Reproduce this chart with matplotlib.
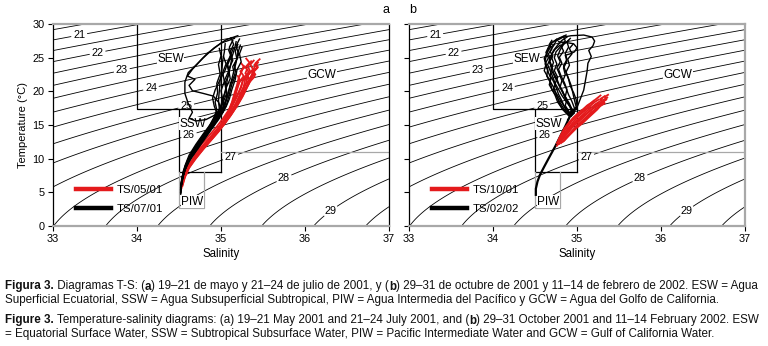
import numpy as np
import matplotlib
matplotlib.use("Agg")
import matplotlib.pyplot as plt
from matplotlib import font_manager

plt.rcParams['font.family'] = ['Liberation Sans', 'DejaVu Sans']

# ---------------- data ----------------
sal_ticks = [33, 34, 35, 36, 37]
temp_ticks = [0, 5, 10, 15, 20, 25, 30]
sigma_half_levels = [19.5, 20.5, 21.5, 22.5, 23.5, 24.5, 25.5, 26.5, 27.5, 28.5, 29.5]
sigma_label_levels = [20, 21, 22, 23, 24, 25, 26, 27, 28, 29, 30]
sigma_label_pos = [(33.31, 28.5), (33.53, 25.8), (33.82, 23.1), (34.17, 20.3),
                   (34.58, 18.1), (34.63, 13.0), (35.12, 10.0), (35.75, 7.06),
                   (36.31, 2.1)]

# water-mass boundaries (salinity, temperature)
sew_outline = [(34.0, 30.0), (34.0, 17.4), (35.0, 17.4)]
sew_right = [(35.0, 30.0), (35.0, 8.0)]
ssw_outline = [(34.5, 17.4), (34.5, 8.0), (35.0, 8.0)]
piw_outline = [(34.5, 8.0), (34.5, 2.7), (34.8, 2.7), (34.8, 8.0)]
gcw_outline = [(35.0, 11.0), (37.0, 11.0)]
mass_names = ['SEW', 'SSW', 'GCW', 'PIW']
mass_pos = [(34.40, 24.8), (34.66, 15.2), (36.20, 22.4), (34.66, 3.6)]

# panel a, May 2001 (red)
may01 = [
    [(35.46,24.8),(35.41,24.2),(35.44,23.6),(35.38,22.8),(35.36,21.8),(35.31,20.6),(35.26,19.3),(35.20,18.0),(35.13,16.7),(35.05,15.4),(34.96,14.1),(34.87,12.8),(34.78,11.5),(34.69,10.1),(34.62,8.7),(34.57,7.3),(34.54,6.0)],
    [(35.39,24.6),(35.35,24.0),(35.38,23.3),(35.32,22.4),(35.30,21.3),(35.25,20.1),(35.21,18.8),(35.15,17.5),(35.09,16.2),(35.01,14.9),(34.92,13.6),(34.83,12.3),(34.74,11.0),(34.66,9.6),(34.59,8.2),(34.55,6.8),(34.53,5.6)],
    [(35.30,24.9),(35.34,24.3),(35.29,23.6),(35.33,22.9),(35.27,22.0),(35.24,20.8),(35.20,19.5),(35.15,18.2),(35.10,16.9),(35.03,15.6),(34.95,14.3),(34.86,13.0),(34.77,11.7),(34.68,10.3),(34.61,8.9),(34.56,7.5),(34.53,6.2)],
    [(35.42,23.4),(35.37,22.9),(35.40,22.2),(35.34,21.4),(35.30,20.4),(35.25,19.2),(35.19,17.9),(35.12,16.6),(35.05,15.3),(34.97,14.0),(34.88,12.7),(34.79,11.4),(34.70,10.0),(34.62,8.6),(34.57,7.2),(34.54,5.9)],
    [(35.24,24.2),(35.28,23.6),(35.23,23.0),(35.27,22.3),(35.22,21.4),(35.19,20.2),(35.16,18.9),(35.12,17.6),(35.07,16.3),(35.00,15.0),(34.92,13.7),(34.83,12.4),(34.74,11.1),(34.66,9.7),(34.59,8.3),(34.55,6.9)],
    [(35.35,22.9),(35.31,22.4),(35.34,21.8),(35.29,21.0),(35.26,20.0),(35.22,18.9),(35.17,17.7),(35.11,16.5),(35.04,15.2),(34.96,13.9),(34.87,12.6),(34.78,11.3),(34.69,9.9),(34.61,8.5),(34.56,7.1)],
    [(35.44,24.3),(35.40,23.7),(35.37,22.6),(35.33,21.5),(35.29,20.3),(35.24,19.0),(35.18,17.7),(35.11,16.3),(35.03,15.0),(34.94,13.7),(34.85,12.4),(34.76,11.1),(34.67,9.7)],
    [(35.27,23.8),(35.25,23.1),(35.21,22.0),(35.19,20.9),(35.16,19.7),(35.13,18.4),(35.09,17.1),(35.04,15.8),(34.97,14.5),(34.89,13.2),(34.80,11.9),(34.71,10.5),(34.63,9.1),(34.57,7.7),(34.54,6.3)],
    [(35.36,24.5),(35.32,23.7),(35.35,22.9),(35.29,21.9),(35.27,20.7),(35.22,19.4),(35.17,18.1),(35.11,16.8),(35.04,15.5),(34.96,14.2),(34.87,12.9),(34.78,11.6),(34.69,10.2),(34.61,8.8),(34.56,7.4),(34.53,6.1)],
    [(35.20,22.3),(35.23,21.6),(35.19,20.8),(35.17,19.8),(35.14,18.6),(35.10,17.3),(35.05,16.0),(34.98,14.7),(34.90,13.4),(34.81,12.1),(34.72,10.8)],
    [(35.40,24.0),(35.43,23.5),(35.38,23.1),(35.41,22.5),(35.35,22.1),(35.33,21.2),(35.28,20.2),(35.23,19.0),(35.17,17.8),(35.10,16.6),(35.02,15.3),(34.93,14.0),(34.84,12.7),(34.75,11.4)],
    [(35.31,23.3),(35.29,22.7),(35.32,22.3),(35.26,21.7),(35.24,20.6),(35.20,19.6),(35.15,18.4),(35.09,17.2),(35.02,15.9),(34.94,14.6),(34.85,13.3),(34.76,12.0),(34.68,10.6)],
]

# panel a, July 2001 (black)
jul01 = [
    [(35.20,28.3),(35.06,27.7),(34.92,26.5),(34.78,24.9),(34.66,23.3),(34.60,22.3),(34.69,21.8),(34.62,20.9),(34.66,20.1),(34.79,19.7),(34.91,19.3),(34.97,18.4),(35.00,17.4),(34.95,16.2),(34.88,14.8),(34.80,13.2),(34.71,11.5),(34.63,10.0),(34.57,8.4),(34.54,6.9),(34.52,5.6),(34.52,4.7)],
    [(35.16,27.9),(35.00,27.2),(34.84,25.7),(34.70,23.9),(34.61,22.8),(34.57,21.4),(34.57,19.7),(34.61,18.2),(34.66,16.9),(34.62,16.0),(34.70,15.6),(34.82,15.8),(34.93,16.5),(34.97,16.9),(34.92,15.5),(34.85,14.1),(34.77,12.7),(34.68,11.1),(34.61,9.6),(34.56,8.0),(34.53,6.5),(34.52,5.0)],
    [(35.18,27.4),(35.16,26.3),(35.13,25.1),(35.11,23.6),(35.08,22.1),(35.06,20.6),(35.03,19.1),(35.01,17.7),(34.96,16.4),(34.89,15.0),(34.80,13.4),(34.71,11.7),(34.63,10.1),(34.57,8.5),(34.54,7.0),(34.52,5.6),(34.52,4.8)],
    [(35.23,26.9),(35.20,25.7),(35.18,24.3),(35.15,22.9),(35.12,21.4),(35.09,19.9),(35.05,18.4),(35.01,17.1),(34.95,15.9),(34.88,14.5),(34.79,13.0),(34.70,11.4),(34.62,9.9),(34.56,8.3),(34.53,6.8),(34.52,5.3)],
    [(35.05,27.1),(35.04,25.9),(35.02,24.6),(35.01,23.1),(34.99,21.7),(34.98,20.1),(34.97,18.7),(34.98,17.4),(34.94,16.1),(34.87,14.7),(34.78,13.1),(34.69,11.5),(34.61,9.9),(34.56,8.2),(34.53,6.6),(34.52,5.1)],
    [(35.14,27.6),(35.10,26.6),(35.12,25.4),(35.07,24.2),(35.09,23.0),(35.04,21.6),(35.06,20.2),(35.02,18.9),(35.03,17.6),(34.97,16.4),(34.90,15.1),(34.81,13.5),(34.72,11.9),(34.64,10.3),(34.58,8.7),(34.54,7.1),(34.52,5.5)],
    [(35.25,26.6),(35.22,25.6),(35.24,24.4),(35.19,23.2),(35.17,21.8),(35.13,20.3),(35.10,18.9),(35.06,17.7),(35.00,16.6),(34.93,15.3),(34.84,13.8),(34.75,12.2),(34.66,10.6),(34.59,9.0),(34.55,7.4),(34.53,5.9)],
    [(35.09,26.2),(35.12,25.2),(35.08,24.0),(35.10,22.7),(35.05,21.3),(35.07,19.8),(35.03,18.5),(35.04,17.3),(34.98,16.2),(34.91,14.9),(34.82,13.4),(34.73,11.8),(34.65,10.2),(34.58,8.6),(34.54,7.0),(34.52,5.4)],
    [(35.20,27.0),(35.17,26.0),(35.19,24.8),(35.14,23.7),(35.16,22.4),(35.11,21.0),(35.08,19.5),(35.05,18.0),(35.02,16.9),(34.95,15.6),(34.86,14.1),(34.77,12.5),(34.68,10.9),(34.60,9.3),(34.55,7.7),(34.53,6.2),(34.52,4.9)],
    [(34.98,26.4),(35.00,25.3),(34.97,24.0),(34.99,22.6),(34.95,21.2),(34.96,19.8),(34.93,18.4),(34.95,17.2),(34.91,16.0),(34.85,14.6),(34.76,13.0),(34.67,11.3),(34.60,9.7),(34.55,8.1),(34.53,6.5),(34.52,5.0)],
    [(35.12,28.0),(35.15,27.0),(35.11,25.9),(35.14,24.6),(35.09,23.3),(35.11,21.9),(35.06,20.5),(35.07,19.1),(35.03,17.8),(34.99,16.7),(34.92,15.4),(34.83,13.9),(34.74,12.3),(34.65,10.6),(34.58,9.0),(34.54,7.3),(34.52,5.7)],
    [(35.22,27.8),(35.18,26.8),(35.21,25.5),(35.16,24.0),(35.18,22.6),(35.13,21.1),(35.10,19.6),(35.07,18.2),(35.03,17.0),(34.97,15.8),(34.89,14.4),(34.80,12.8),(34.71,11.2),(34.62,9.6),(34.56,8.0),(34.53,6.4)],
    [(35.03,25.2),(35.06,24.1),(35.02,22.8),(35.04,21.5),(35.00,20.1),(35.02,18.8),(34.99,17.6),(34.94,16.5),(34.88,15.2),(34.79,13.7),(34.70,12.1),(34.62,10.5),(34.57,8.9),(34.54,7.3)],
    [(35.15,26.5),(35.10,25.0),(35.05,23.2),(34.98,21.5),(34.93,20.2),(34.90,19.0),(34.92,17.8),(34.95,16.8),(34.90,15.5),(34.82,14.0),(34.73,12.4),(34.65,10.8),(34.59,9.2),(34.55,7.6),(34.53,6.1)],
]

# panel b, February 2002 (black)
feb02 = [
    [(34.80,28.0),(34.93,28.3),(35.08,28.4),(35.18,28.1),(35.21,27.5),(35.19,26.8),(35.14,26.1),(35.17,25.2),(35.13,24.2),(35.12,23.0),(35.10,21.6),(35.08,20.2),(35.04,18.9),(35.00,17.6),(34.94,16.6),(34.89,15.8)],
    [(34.87,28.4),(34.78,27.9),(34.70,27.3),(34.66,26.6),(34.63,25.8),(34.66,25.0),(34.62,24.1),(34.65,23.2),(34.64,22.3),(34.68,21.4),(34.70,20.4),(34.74,19.4),(34.77,18.4),(34.82,17.5),(34.87,16.8),(34.91,16.3)],
    [(34.82,28.0),(34.75,27.5),(34.72,26.8),(34.68,26.0),(34.71,25.2),(34.67,24.4),(34.70,23.4),(34.68,22.4),(34.72,21.5),(34.75,20.6),(34.78,19.6),(34.82,18.6),(34.85,17.7),(34.89,17.0),(34.92,16.4)],
    [(34.90,27.6),(34.84,27.0),(34.80,26.2),(34.77,25.3),(34.80,24.4),(34.76,23.5),(34.79,22.6),(34.82,21.6),(34.80,20.7),(34.84,19.7),(34.88,18.8),(34.86,17.9),(34.90,17.1),(34.93,16.5)],
    [(34.76,27.8),(34.70,27.2),(34.66,26.4),(34.64,25.5),(34.62,24.6),(34.64,23.7),(34.66,22.8),(34.69,21.9),(34.67,21.0),(34.71,20.1),(34.76,19.2),(34.80,18.3),(34.84,17.5),(34.88,16.9),(34.92,16.4)],
    [(34.85,27.2),(34.80,26.6),(34.75,25.9),(34.73,25.0),(34.76,24.1),(34.73,23.1),(34.77,22.1),(34.74,21.2),(34.78,20.3),(34.82,19.4),(34.87,18.5),(34.92,17.7),(34.95,17.0),(34.93,16.4)],
    [(34.92,27.9),(34.88,27.4),(34.90,26.6),(34.86,25.7),(34.88,24.8),(34.84,23.8),(34.87,22.8),(34.90,21.8),(34.92,20.8),(34.96,19.8),(34.99,18.8),(35.00,17.8),(34.96,17.0),(34.93,16.4)],
    [(34.80,26.9),(34.74,26.3),(34.70,25.5),(34.67,24.7),(34.70,23.8),(34.72,22.8),(34.76,21.9),(34.79,20.9),(34.83,20.0),(34.86,19.0),(34.90,18.1),(34.93,17.3),(34.92,16.6)],
    [(34.88,28.1),(34.82,27.6),(34.77,26.9),(34.72,26.1),(34.69,25.3),(34.72,24.3),(34.69,23.3),(34.73,22.3),(34.77,21.3),(34.81,20.3),(34.85,19.3),(34.89,18.3),(34.94,17.4),(34.97,16.8),(34.93,16.3)],
    [(34.95,27.0),(34.91,26.4),(34.94,25.6),(34.89,24.8),(34.91,23.9),(34.87,22.9),(34.90,21.9),(34.93,20.9),(34.95,19.8),(34.97,18.7),(34.99,17.7),(34.95,16.9),(34.92,16.4)],
    [(34.73,27.0),(34.68,26.5),(34.64,25.7),(34.61,24.9),(34.63,24.0),(34.61,23.1),(34.65,22.2),(34.69,21.3),(34.73,20.4),(34.76,19.3),(34.79,18.2),(34.83,17.3),(34.88,16.7),(34.91,16.3)],
    [(34.84,28.2),(34.86,27.5),(34.81,26.8),(34.84,26.0),(34.79,25.1),(34.82,24.2),(34.78,23.3),(34.81,22.3),(34.85,21.3),(34.88,20.3),(34.86,19.2),(34.91,18.2),(34.94,17.3),(34.92,16.5)],
    [(34.78,27.4),(34.86,27.3),(34.96,27.1),(35.00,26.5),(34.97,25.9),(34.92,25.6),(34.86,25.4),(34.88,24.5),(34.84,23.5),(34.86,22.5),(34.83,21.5),(34.87,20.5),(34.90,19.5),(34.94,18.5),(34.97,17.5),(34.93,16.6)],
    [(34.70,27.6),(34.67,27.0),(34.70,26.3),(34.66,25.6),(34.68,24.8),(34.65,24.0),(34.68,23.1),(34.71,22.2),(34.74,21.2),(34.72,20.3),(34.77,19.4),(34.81,18.5),(34.86,17.6),(34.90,16.9)],
]
feb02_deep = [(34.92,16.4),(34.86,14.8),(34.80,13.3),(34.74,11.8),(34.67,10.2),(34.61,8.8),(34.56,7.6),(34.53,6.6),(34.51,5.5),(34.51,4.6)]

# panel b, October 2001 (red)
oct01 = [
    [(35.37,19.5),(35.33,19.2),(35.35,18.8),(35.29,18.4),(35.24,17.9),(35.18,17.4),(35.12,16.8),(35.05,16.1),(34.98,15.3),(34.91,14.4),(34.85,13.4),(34.80,12.5),(34.76,11.9)],
    [(35.30,18.9),(35.27,18.5),(35.22,18.1),(35.17,17.6),(35.11,17.0),(35.05,16.3),(34.99,15.6),(34.93,14.8),(34.87,13.9),(34.82,13.0),(34.78,12.2)],
    [(35.33,19.3),(35.28,18.9),(35.30,18.5),(35.25,18.0),(35.20,17.5),(35.14,16.9),(35.08,16.2),(35.02,15.5),(34.95,14.7),(34.89,13.8),(34.83,12.9),(34.79,12.2)],
    [(35.25,18.3),(35.21,17.9),(35.23,17.4),(35.17,16.9),(35.12,16.3),(35.06,15.6),(35.00,14.9),(34.94,14.1),(34.88,13.3),(34.83,12.5)],
    [(35.20,18.6),(35.17,18.3),(35.12,17.9),(35.07,17.3),(35.01,16.7),(34.95,16.0),(34.90,15.3),(34.85,14.5),(34.81,13.6),(34.78,12.8)],
    [(35.35,18.9),(35.31,18.4),(35.27,17.9),(35.22,17.3),(35.16,16.7),(35.10,16.0),(35.04,15.3),(34.98,14.5),(34.92,13.7),(34.86,12.9),(34.81,12.3)],
    [(35.28,19.4),(35.24,19.0),(35.19,18.5),(35.14,18.0),(35.08,17.4),(35.02,16.8),(34.96,16.1),(34.91,15.3),(34.86,14.4),(34.82,13.5),(34.78,12.6)],
    [(35.32,18.4),(35.28,17.9),(35.24,17.3),(35.18,16.6),(35.12,15.9),(35.06,15.2),(35.00,14.6),(34.94,13.9),(34.88,13.2)],
    [(35.15,17.8),(35.11,17.4),(35.06,16.9),(35.00,16.3),(34.94,15.6),(34.89,14.8),(34.84,14.0),(34.80,13.1),(34.76,12.3)],
    [(35.36,19.1),(35.31,18.7),(35.33,18.2),(35.27,17.8),(35.22,17.2),(35.15,16.5),(35.09,15.8),(35.03,15.1),(34.97,14.3),(34.91,13.5),(34.85,12.7)],
    [(35.26,18.8),(35.22,18.5),(35.18,18.1),(35.13,17.5),(35.07,16.9),(35.01,16.2),(34.96,15.5),(34.90,14.6),(34.85,13.8),(34.80,12.9)],
    [(35.29,18.0),(35.25,17.5),(35.20,16.9),(35.14,16.3),(35.08,15.6),(35.02,15.0),(34.96,14.3),(34.90,13.5),(34.84,12.6)],
]

legend_a = ['TS/05/01', 'TS/07/01']
legend_b = ['TS/10/01', 'TS/02/02']

RED = '#e41a1c'
GRAY = '#a8a8a8'


def sigma_t(S, T):
    rw = (999.842594 + 6.793952e-2 * T - 9.095290e-3 * T**2 + 1.001685e-4 * T**3
          - 1.120083e-6 * T**4 + 6.536332e-9 * T**5)
    A = 8.24493e-1 - 4.0899e-3 * T + 7.6438e-5 * T**2 - 8.2467e-7 * T**3 + 5.3875e-9 * T**4
    B = -5.72466e-3 + 1.0227e-4 * T - 1.6546e-6 * T**2
    C = 4.8314e-4
    return rw + A * S + B * S**1.5 + C * S**2 - 1000.0


W, H = 768, 346
fig = plt.figure(figsize=(W / 100, H / 100), dpi=100)

ax_h = (225.7 - 24.3) / H
ax_b = 1 - 225.7 / H
axa = fig.add_axes([53 / W, ax_b, 336 / W, ax_h])
axb = fig.add_axes([409 / W, ax_b, 336 / W, ax_h])

Sg, Tg = np.meshgrid(np.linspace(33, 37, 400), np.linspace(0, 30, 300))
SIG = sigma_t(Sg, Tg)


def draw_panel(ax, first, second, first_on_top, deep, labels, show_y):
    ax.contour(Sg, Tg, SIG, levels=sigma_half_levels, colors='black', linewidths=0.6)
    cs = ax.contour(Sg, Tg, SIG, levels=sigma_label_levels, colors='black', linewidths=0.6)
    txts = ax.clabel(cs, manual=sigma_label_pos, fmt='%d',
                     inline=True, inline_spacing=2, fontsize=7.8)
    for t in txts:
        t.set_rotation(0)
    # boxes
    for pts, col in [(sew_outline, 'black'), (sew_right, 'black'), (ssw_outline, 'black'),
                     (piw_outline, GRAY), (gcw_outline, GRAY)]:
        xs, ys = zip(*pts)
        ax.plot(xs, ys, color=col, lw=0.9, zorder=2)
    for name, (x, y) in zip(mass_names, mass_pos):
        ax.text(x, y, name, fontsize=8.5, ha='center', va='center', zorder=3,
                bbox=dict(facecolor='white', edgecolor='none', pad=0.3))
    # profiles
    order = [(second, 'black', 1.0), (first, RED, 1.3)] if first_on_top else \
            [(first, RED, 1.3), (second, 'black', 1.0)]
    for profs, col, lw in order:
        for p in profs:
            s, t = zip(*p)
            ax.plot(s, t, color=col, lw=lw, zorder=4)
        if col == 'black' and deep is not None:
            s, t = zip(*deep)
            ax.plot(s, t, color='black', lw=1.6, zorder=4)
    # legend
    h1, = ax.plot([], [], color=RED, lw=3.2)
    h2, = ax.plot([], [], color='black', lw=3.2)
    ax.legend([h1, h2], labels, loc='lower left', bbox_to_anchor=(0.045, 0.02),
              frameon=False, fontsize=8.2, handlelength=3.1, handletextpad=0.5,
              labelspacing=0.75, borderpad=0.2)

    ax.set_xlim(33, 37)
    ax.set_ylim(0, 30)
    ax.set_xticks(sal_ticks)
    ax.set_yticks(temp_ticks)
    ax.tick_params(direction='out', length=3.5, width=0.8, labelsize=7.8, pad=2.5)
    if not show_y:
        ax.tick_params(labelleft=False)
    ax.set_xlabel('Salinity', fontsize=8.3, labelpad=3)
    for side in ['top', 'bottom']:
        ax.spines[side].set_color(GRAY)
        ax.spines[side].set_linewidth(1.6)
    ax.spines['left'].set_linewidth(0.9)
    ax.spines['right'].set_linewidth(0.9)


draw_panel(axa, may01, jul01, False, None, legend_a, True)
draw_panel(axb, oct01, feb02, True, feb02_deep, legend_b, False)
axb.spines['right'].set_color(GRAY)
axb.spines['right'].set_linewidth(1.6)
axa.set_ylabel('Temperature (°C)', fontsize=8.0, labelpad=3)

fig.text(386 / W, 1 - 10 / H, 'a', fontsize=9, ha='center', va='center')
fig.text(413 / W, 1 - 10 / H, 'b', fontsize=9, ha='center', va='center')

# ---------------- caption ----------------
cap_family = ['Liberation Sans Narrow', 'Liberation Sans', 'DejaVu Sans']
try:
    font_manager.findfont(font_manager.FontProperties(family='Liberation Sans Narrow'),
                          fallback_to_default=False)
except Exception:
    cap_family = ['Liberation Sans', 'DejaVu Sans']

caption = [
    [('Figura 3.', True), (' Diagramas T-S: (', False), ('a', True),
     (') 19–21 de mayo y 21–24 de julio de 2001, y (', False), ('b', True),
     (') 29–31 de octubre de 2001 y 11–14 de febrero de 2002. ESW = Agua', False)],
    [('Superficial Ecuatorial, SSW = Agua Subsuperficial Subtropical, PIW = Agua Intermedia del Pacífico y GCW = Agua del Golfo de California.', False)],
    [('Figure 3.', True), (' Temperature-salinity diagrams: (a) 19–21 May 2001 and 21–24 July 2001, and (', False),
     ('b', True), (') 29–31 October 2001 and 11–14 February 2002. ESW', False)],
    [('= Equatorial Surface Water, SSW = Subtropical Subsurface Water, PIW = Pacific Intermediate Water and GCW = Gulf of California Water.', False)],
]
cap_y = [286.5, 300.0, 320.5, 334.0]

renderer = fig.canvas.get_renderer()


def text_width(s, bold, size):
    t1 = fig.text(0, 0, '|' + s + '|', fontsize=size, family=cap_family,
                  fontweight='bold' if bold else 'normal')
    t2 = fig.text(0, 0, '||', fontsize=size, family=cap_family,
                  fontweight='bold' if bold else 'normal')
    w = t1.get_window_extent(renderer).width - t2.get_window_extent(renderer).width
    t1.remove()
    t2.remove()
    return w


ref_size = 10.0
w0 = sum(text_width(s, b, ref_size) for s, b in caption[0])
cap_size = ref_size * 749.0 / w0

for runs, y in zip(caption, cap_y):
    x = 5.0
    for s, b in runs:
        fig.text(x / W, 1 - y / H, s, fontsize=cap_size, family=cap_family,
                 fontweight='bold' if b else 'normal', ha='left', va='center', color='#111111')
        x += text_width(s, b, cap_size)

fig.savefig('out.png', dpi=100)
